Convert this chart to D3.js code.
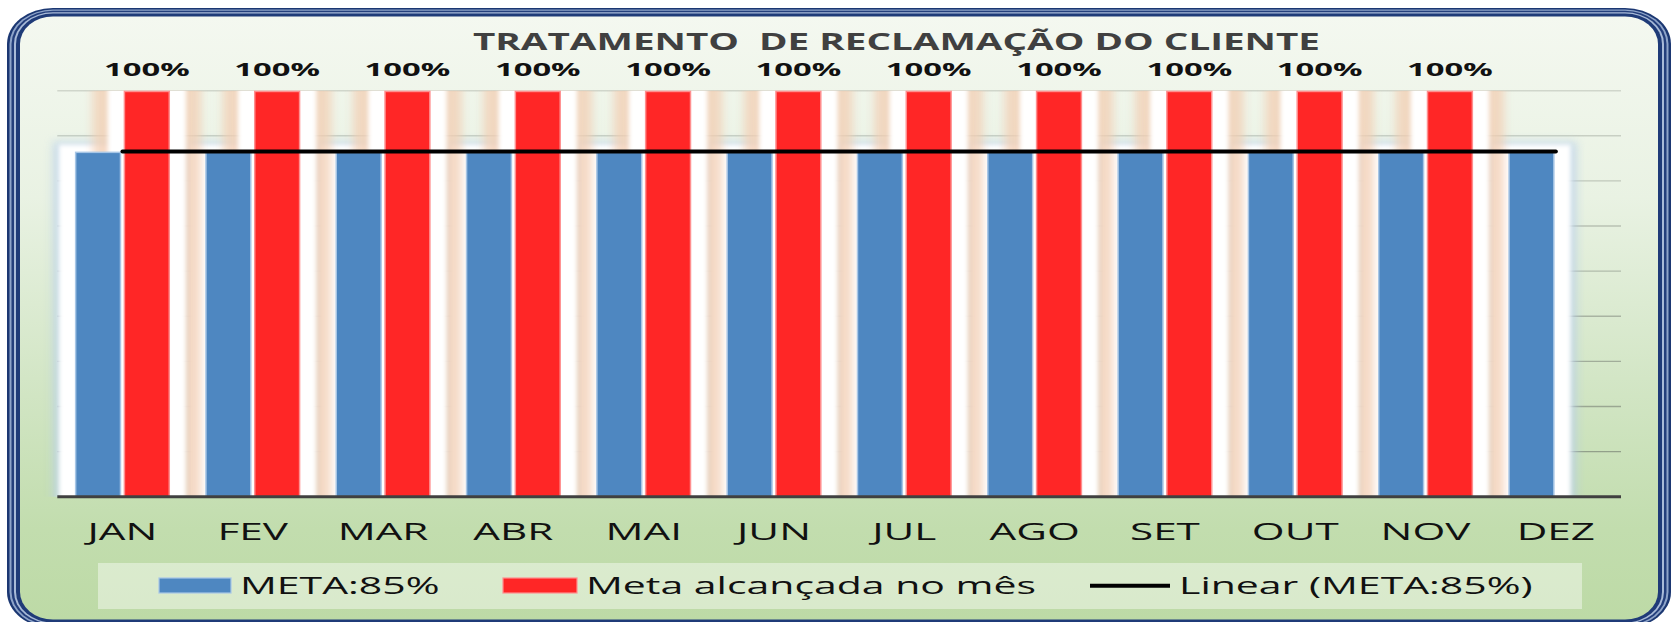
<!DOCTYPE html>
<html>
<head>
<meta charset="utf-8">
<script src="https://cdn.jsdelivr.net/npm/d3@7/dist/d3.min.js"></script>
<style>
  body { margin: 0; background: #ffffff; overflow: hidden; }
  text { font-family: "Open Sans", "DejaVu Sans", sans-serif; }
</style>
</head>
<body>
<script>
// ---- chart data ----
const titleText = "TRATAMENTO  DE RECLAMAÇÃO DO CLIENTE";
const months = ["JAN", "FEV", "MAR", "ABR", "MAI", "JUN", "JUL", "AGO", "SET", "OUT", "NOV", "DEZ"];
const metaValues = [0.85, 0.85, 0.85, 0.85, 0.85, 0.85, 0.85, 0.85, 0.85, 0.85, 0.85, 0.85];
const alcancadaValues = [1, 1, 1, 1, 1, 1, 1, 1, 1, 1, 1, null];
const seriesNames = ["META:85%", "Meta alcançada no mês", "Linear (META:85%)"];

const log = console.log;

const size = { width: 1673, height: 622 };
const plot = { left: 57.3, right: 1621, top: 90.7, bottom: 496.7 };
const STRETCH = 1.69;   // the source picture is stretched sideways

const svg = d3.select('body').append('svg')
  .attr('width', size.width)
  .attr('height', size.height);

const defs = svg.append('defs');

const bg = defs.append('linearGradient')
  .attr('id', 'bg').attr('x1', 0).attr('y1', 0).attr('x2', 0).attr('y2', 1);
[[0, '#f4f8f0'], [0.3, '#e9f2e3'], [0.6, '#d3e6c6'], [0.85, '#c2ddae'], [1, '#bddaa6']]
  .forEach(([o, c]) => bg.append('stop').attr('offset', o).attr('stop-color', c));

const addBlur = (id, sd) => defs.append('filter')
  .attr('id', id)
  .attr('x', -1).attr('y', -0.2).attr('width', 3).attr('height', 1.4)
  .append('feGaussianBlur').attr('stdDeviation', sd);
addBlur('blur2', 2.2);
addBlur('blur4', 4);

defs.append('clipPath').attr('id', 'plotClip')
  .append('rect')
  .attr('x', plot.left - 40).attr('y', plot.top)
  .attr('width', plot.right - plot.left + 80)
  .attr('height', plot.bottom - plot.top);

/* frame: several nested rounded rects give the triple navy border */
const frame = svg.append('g').attr('class', 'frame');
const outer = { x: 7, y: 8, w: 1664, h: 620, rx: 46, ry: 36 };
[
  { dx: 0, dy: 0, fill: '#1b3772' },
  { dx: 2.5, dy: 1.5, fill: '#8ea4c9' },
  { dx: 4.5, dy: 2.8, fill: '#243f7c' },
  { dx: 7, dy: 4.3, fill: '#a9bbd8' },
  { dx: 9, dy: 5.5, fill: '#1f3b78' },
  { dx: 13, dy: 8.5, fill: 'url(#bg)' },
].forEach(s => {
  frame.append('rect')
    .attr('x', outer.x + s.dx).attr('y', outer.y + s.dy)
    .attr('width', outer.w - 2 * s.dx).attr('height', outer.h - 2 * s.dy)
    .attr('rx', outer.rx - s.dx).attr('ry', outer.ry - s.dy)
    .attr('fill', s.fill);
});

// ---- scales ----
const x0 = d3.scaleBand()
  .domain(months)
  .range([plot.left, plot.right])
  .paddingInner(0.27)
  .paddingOuter(0.135);

const x1 = d3.scaleBand()
  .domain(['meta', 'alcancada'])
  .range([0, x0.bandwidth()])
  .paddingInner(0.05);

const y = d3.scaleLinear().domain([0, 1]).range([plot.bottom, plot.top]);

// gridlines (9 equal divisions as in the picture)
const gridVals = d3.range(1, 10).map(i => i / 9);
const gridColor = d3.interpolateRgb('#d0d6cb', '#8a9982');
svg.append('g').attr('class', 'grid')
  .selectAll('line')
  .data(gridVals)
  .enter()
  .append('line')
    .attr('x1', plot.left).attr('x2', plot.right)
    .attr('y1', d => y(d)).attr('y2', d => y(d))
    .attr('stroke', d => gridColor(1 - d))
    .attr('stroke-width', 1.4);

const rows = months.map((m, i) => ({ m, meta: metaValues[i], alc: alcancadaValues[i] }));
const withAlc = rows.filter(d => d.alc != null);

/* glow effects behind the bars */
const glow = svg.append('g').attr('class', 'glow').attr('clip-path', 'url(#plotClip)');

glow.selectAll('.glow-blue-edge')
  .data(rows)
  .enter()
  .append('rect')
    .attr('class', 'glow-blue-edge')
    .attr('x', d => x0(d.m) + x1('meta') - 22)
    .attr('y', d => y(d.meta) - 10)
    .attr('width', x1.bandwidth() + 44)
    .attr('height', d => y(0) - y(d.meta) + 20)
    .attr('fill', '#b9d0ea')
    .attr('opacity', 0.7)
    .attr('filter', 'url(#blur4)');

glow.selectAll('.glow-blue')
  .data(rows)
  .enter()
  .append('rect')
    .attr('class', 'glow-blue')
    .attr('x', d => x0(d.m) + x1('meta') - 16)
    .attr('y', d => y(d.meta) - 7)
    .attr('width', x1.bandwidth() + 32)
    .attr('height', d => y(0) - y(d.meta) + 20)
    .attr('fill', '#ffffff')
    .attr('filter', 'url(#blur2)');

glow.selectAll('.glow-peach')
  .data(withAlc)
  .enter()
  .append('rect')
    .attr('class', 'glow-peach')
    .attr('x', d => x0(d.m) + x1('alcancada') - 31)
    .attr('y', d => y(d.alc) - 10)
    .attr('width', x1.bandwidth() + 62)
    .attr('height', d => y(0) - y(d.alc) + 20)
    .attr('fill', '#f2cdb2')
    .attr('opacity', 0.75)
    .attr('filter', 'url(#blur4)');

glow.selectAll('.glow-white')
  .data(withAlc)
  .enter()
  .append('rect')
    .attr('class', 'glow-white')
    .attr('x', d => x0(d.m) + x1('alcancada') - 16)
    .attr('y', d => y(d.alc) - 10)
    .attr('width', x1.bandwidth() + 32)
    .attr('height', d => y(0) - y(d.alc) + 20)
    .attr('fill', '#ffffff')
    .attr('filter', 'url(#blur2)');

// ---- bars ----
const bars = svg.append('g').attr('class', 'bars');
bars.selectAll('.bar-meta')
  .data(rows)
  .enter()
  .append('rect')
    .attr('class', 'bar-meta')
    .attr('x', d => x0(d.m) + x1('meta') + 0.75)
    .attr('y', d => y(d.meta) + 0.75)
    .attr('width', x1.bandwidth() - 1.5)
    .attr('height', d => y(0) - y(d.meta) - 0.75)
    .attr('fill', '#4e87c1')
    .attr('stroke', '#a7c6e6')
    .attr('stroke-width', 1.5);

bars.selectAll('.bar-alc')
  .data(withAlc)
  .enter()
  .append('rect')
    .attr('class', 'bar-alc')
    .attr('x', d => x0(d.m) + x1('alcancada') + 0.75)
    .attr('y', d => y(d.alc) + 0.75)
    .attr('width', x1.bandwidth() - 1.5)
    .attr('height', d => y(0) - y(d.alc) - 0.75)
    .attr('fill', '#ff2626')
    .attr('stroke', '#ff8f8f')
    .attr('stroke-width', 1.5);

// baseline (category axis)
const xAxis = svg.append('g')
  .attr('class', 'x-axis')
  .attr('transform', `translate(0,${plot.bottom})`)
  .call(d3.axisBottom(x0).tickSize(0).tickPadding(0));
xAxis.select('.domain')
  .attr('stroke', '#404040')
  .attr('stroke-width', 3)
  .attr('d', `M${plot.left},0H${plot.right}`);
xAxis.selectAll('.tick text')
  .attr('y', 0).attr('dy', null)
  .attr('transform', `translate(0,43.5) scale(1.76,1)`)
  .attr('font-size', 24)
  .attr('fill', '#111111')
  .style('font-family', '"Open Sans", sans-serif');

// trend line: least squares fit through the META series
const xs = d3.range(metaValues.length);
const mx = d3.mean(xs), my = d3.mean(metaValues);
const slope = d3.sum(xs, i => (i - mx) * (metaValues[i] - my)) / d3.sum(xs, i => (i - mx) ** 2);
const icpt = my - slope * mx;
const trend = xs.map(i => [x0(months[i]) + x0.bandwidth() / 2, y(icpt + slope * i)]);
svg.append('path')
  .attr('class', 'trend')
  .attr('d', d3.line()([trend[0], trend[trend.length - 1]]))
  .attr('stroke', '#000000')
  .attr('stroke-width', 4)
  .attr('stroke-linecap', 'round')
  .attr('fill', 'none');

// data labels
const fmt = d3.format('.0%');
svg.append('g').attr('class', 'labels')
  .selectAll('text')
  .data(withAlc)
  .enter()
  .append('text')
    .attr('transform', d => `translate(${x0(d.m) + x1('alcancada') + x1.bandwidth() / 2},${y(d.alc) - 14.5}) scale(1.82,1)`)
    .attr('text-anchor', 'middle')
    .attr('font-size', 18)
    .attr('font-weight', 700)
    .attr('fill', '#111111')
    .text(d => fmt(d.alc));

// title
svg.append('text')
  .attr('x', 473).attr('y', 50)
  .attr('font-size', 24)
  .attr('font-weight', 700)
  .attr('fill', '#404040')
  .attr('textLength', 847)
  .attr('lengthAdjust', 'spacingAndGlyphs')
  .style('white-space', 'pre')
  .text(titleText);

// ---- legend ----
const legend = svg.append('g').attr('class', 'legend');
legend.append('rect')
  .attr('x', 98).attr('y', 563)
  .attr('width', 1484).attr('height', 46)
  .attr('fill', '#ffffff')
  .attr('opacity', 0.42);

const legendPos = [159, 503, 1090];
const swatchW = [72, 74, 80];
seriesNames.forEach((name, i) => {
  const g = legend.append('g').attr('transform', `translate(${legendPos[i]},0)`);
  if (i < 2) {
    g.append('rect')
      .attr('x', 0).attr('y', 578)
      .attr('width', swatchW[i]).attr('height', 15)
      .attr('fill', i === 0 ? '#4e87c1' : '#ff2626')
      .attr('stroke', i === 0 ? '#a7c6e6' : '#ff8f8f')
      .attr('stroke-width', 1.2);
  } else {
    g.append('line')
      .attr('x1', 0).attr('x2', swatchW[i])
      .attr('y1', 585.7).attr('y2', 585.7)
      .attr('stroke', '#000000')
      .attr('stroke-width', 4);
  }
  g.append('text')
    .attr('transform', `translate(${swatchW[i] + 9},594) scale(${STRETCH * 1.01},1)`)
    .attr('font-size', 24)
    .attr('fill', '#111111')
    .text(name);
});

log('drawn');
</script>
</body>
</html>
